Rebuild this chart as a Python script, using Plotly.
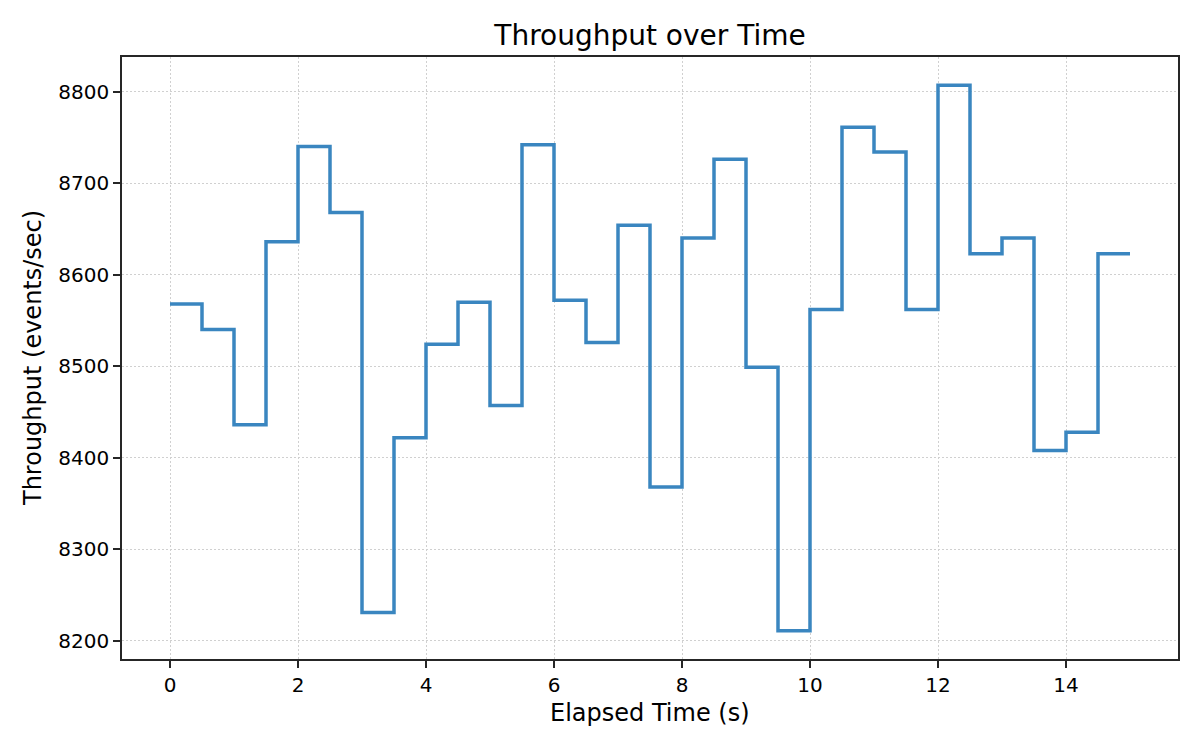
import plotly.graph_objects as go

elapsed_s = [0.0, 0.5, 1.0, 1.5, 2.0, 2.5, 3.0, 3.5, 4.0, 4.5,
             5.0, 5.5, 6.0, 6.5, 7.0, 7.5, 8.0, 8.5, 9.0, 9.5,
             10.0, 10.5, 11.0, 11.5, 12.0, 12.5, 13.0, 13.5, 14.0, 14.5, 15.0]
throughput = [8568, 8540, 8436, 8636, 8740, 8668, 8231, 8422, 8524, 8570,
              8457, 8742, 8572, 8526, 8654, 8368, 8640, 8726, 8499, 8211,
              8562, 8761, 8734, 8562, 8807, 8623, 8640, 8408, 8428, 8623, 8623]

x_ticks = [0, 2, 4, 6, 8, 10, 12, 14]
y_ticks = [8200, 8300, 8400, 8500, 8600, 8700, 8800]

font_family = "DejaVu Sans"
spine = "#262626"

# the page body has an 8px margin, so the figure is a bit smaller than the window
fig_w, fig_h = 1184, 734

fig = go.Figure()
fig.add_trace(go.Scatter(
    x=elapsed_s, y=throughput, mode="lines",
    line=dict(color="#3a86c0", width=3.5, shape="hv"),
    showlegend=False,
))

axis_common = dict(
    showline=True, mirror=True, linecolor=spine, linewidth=1.7,
    ticks="outside", ticklen=7, tickwidth=1.7, tickcolor=spine,
    showgrid=True, gridcolor="#d0d0d0", gridwidth=1.3, griddash="2px,2px",
    zeroline=False,
    tickfont=dict(family=font_family, size=20, color="black"),
)

fig.update_xaxes(range=[-0.75, 15.75], tickvals=x_ticks, **axis_common)
fig.update_yaxes(range=[8180.2, 8837.8], tickvals=y_ticks, **axis_common)

fig.update_layout(
    width=fig_w, height=fig_h,
    margin=dict(l=114, r=14, t=49, b=83),
    paper_bgcolor="white", plot_bgcolor="white",
    font=dict(family=font_family, color="black"),
    title=dict(text="Throughput over Time", x=0.5, xref="paper",
               y=1 - 27 / fig_h, yanchor="middle",
               font=dict(family=font_family, size=28, color="black")),
    annotations=[
        dict(text="Elapsed Time (s)", xref="paper", yref="paper",
             x=0.5, y=-54 / 602, xanchor="center", yanchor="middle",
             showarrow=False, font=dict(family=font_family, size=24, color="black")),
        dict(text="Throughput (events/sec)", xref="paper", yref="paper",
             x=-89 / 1056, y=0.5, xanchor="center", yanchor="middle", textangle=-90,
             showarrow=False, font=dict(family=font_family, size=24, color="black")),
    ],
)

fig.write_html("out.html")
